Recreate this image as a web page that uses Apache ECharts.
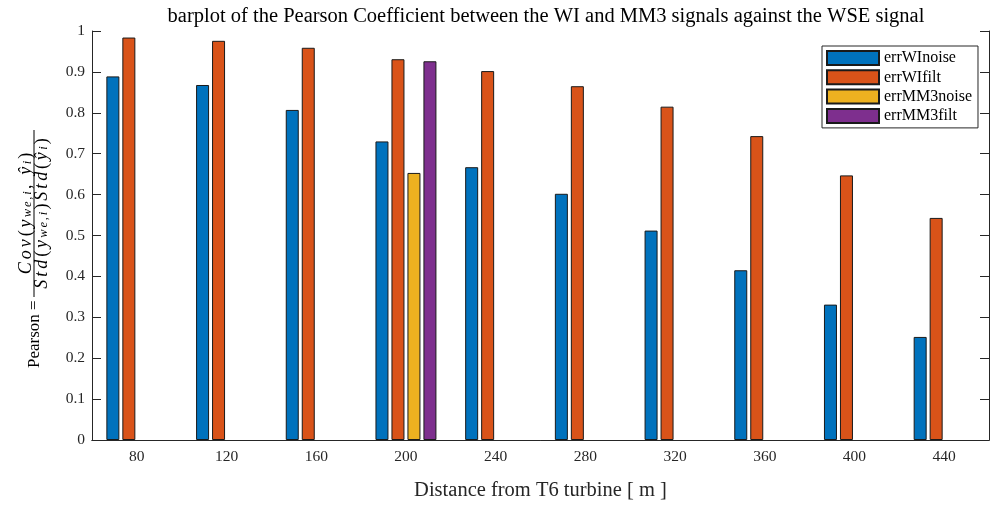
<!DOCTYPE html>
<html>
<head>
<meta charset="utf-8">
<script src="https://cdn.jsdelivr.net/npm/echarts@6/dist/echarts.min.js"></script>
<style>
html,body{margin:0;padding:0;background:#fff;}
#chart{width:995px;height:506px;}
</style>
</head>
<body>
<div id="chart"></div>
<script>
const categories = ['80','120','160','200','240','280','320','360','400','440'];
const errWInoise = [0.889, 0.868, 0.807, 0.730, 0.667, 0.602, 0.512, 0.415, 0.331, 0.252];
const errWIfilt = [0.984, 0.976, 0.959, 0.931, 0.902, 0.865, 0.815, 0.743, 0.647, 0.543];
const errMM3noise = [null, null, null, 0.653, null, null, null, null, null, null];
const errMM3filt = [null, null, null, 0.926, null, null, null, null, null, null];
const seriesNames = ['errWInoise','errWIfilt','errMM3noise','errMM3filt'];
const seriesColors = ['#0072BD','#D95319','#EDB120','#7E2F8E'];
const yTicks = {min: 0, max: 1, interval: 0.1};

const SERIF = '"Liberation Serif", "DejaVu Serif", serif';
const AX = '#262626';

const chart = echarts.init(document.getElementById('chart'), null, {renderer: 'canvas'});
const seriesData = [errWInoise, errWIfilt, errMM3noise, errMM3filt];

// build rich-text math with per-character tokens (spread like LaTeX math)
function mathRich(parts) {
  let s = '';
  parts.forEach(([style, txt]) => {
    for (const ch of txt) s += '{' + style + '|' + ch + '}';
  });
  return s;
}
const numer = mathRich([['m','Cov'],['r','('],['m','y'],['s','we,i'],['r',','],['r',' '],['m','ŷ'],['s','i'],['r',')']]);
const denom = mathRich([['m','Std'],['r','('],['m','y'],['s','we,i'],['r',')'],['m','Std'],['r','('],['m','ŷ'],['s','i'],['r',')']]);
const richStyle = {
  m: {fontFamily: SERIF, fontSize: 18, fontStyle: 'italic', lineHeight: 16, fill: '#000', padding: [0, 1.5, 0, 1.5]},
  r: {fontFamily: SERIF, fontSize: 18, lineHeight: 16, fill: '#000', padding: [0, 1.3, 0, 1.3]},
  s: {fontFamily: SERIF, fontSize: 12.5, fontStyle: 'italic', lineHeight: 7, verticalAlign: 'bottom', fill: '#000', padding: [0, 0.9, 0, 0.9]}
};

const option = {
  backgroundColor: '#fff',
  animation: false,
  title: {
    text: 'barplot of the Pearson Coefficient between the WI and MM3 signals against the WSE signal',
    left: 541, top: 1, textAlign: 'center',
    textStyle: {fontFamily: SERIF, fontSize: 20.5, fontWeight: 'normal', color: '#000'}
  },
  legend: {
    orient: 'vertical', left: 822, top: 46,
    padding: [4, 6, 4, 4], itemGap: 3.3, itemWidth: 52, itemHeight: 14,
    icon: 'rect', borderColor: AX, borderWidth: 1, backgroundColor: '#fff',
    textStyle: {fontFamily: SERIF, fontSize: 16, lineHeight: 14, color: '#000'},
    data: seriesNames
  },
  grid: {left: 92, right: 6, top: 31, bottom: 56, containLabel: false},
  xAxis: [{
    type: 'category', data: categories, position: 'bottom',
    name: 'Distance from T6 turbine [ m ]', nameLocation: 'middle', nameGap: 40,
    nameTextStyle: {fontFamily: SERIF, fontSize: 20.5, color: AX},
    axisLine: {lineStyle: {color: AX, width: 1}},
    axisTick: {inside: true, length: 9, alignWithLabel: true, lineStyle: {color: AX}},
    axisLabel: {fontFamily: SERIF, fontSize: 15.5, color: AX, margin: 9},
    splitLine: {show: false}
  }, {
    type: 'category', data: categories, position: 'top',
    axisLine: {lineStyle: {color: AX, width: 1}},
    axisTick: {inside: true, length: 9, alignWithLabel: true, lineStyle: {color: AX}},
    axisLabel: {show: false}, splitLine: {show: false}
  }],
  yAxis: [{
    type: 'value', min: yTicks.min, max: yTicks.max, interval: yTicks.interval, position: 'left',
    axisLine: {show: true, lineStyle: {color: AX, width: 1}},
    axisTick: {show: true, inside: true, length: 9, lineStyle: {color: AX}},
    axisLabel: {fontFamily: SERIF, fontSize: 15.5, color: AX, margin: 7},
    splitLine: {show: false}
  }, {
    type: 'value', min: yTicks.min, max: yTicks.max, interval: yTicks.interval, position: 'right',
    axisLine: {show: true, lineStyle: {color: AX, width: 1}},
    axisTick: {show: true, inside: true, length: 9, lineStyle: {color: AX}},
    axisLabel: {show: false}, splitLine: {show: false}
  }],
  series: seriesNames.map((n, i) => ({
    name: n, type: 'bar', data: seriesData[i],
    barWidth: 13, barGap: '23%',
    itemStyle: {color: seriesColors[i], borderColor: '#1a1a1a', borderWidth: 1}
  })),
  graphic: [{
    type: 'group', x: 34, y: 249, rotation: Math.PI / 2,
    children: [
      {type: 'text', x: -119, y: 1, style: {text: 'Pearson =', font: '17px ' + SERIF, fill: '#000', align: 'left', verticalAlign: 'middle'}},
      {type: 'line', shape: {x1: -48, y1: 0, x2: 119, y2: 0}, style: {stroke: '#000', lineWidth: 1}},
      {type: 'text', x: 35.5, y: -15.5, style: {text: numer, rich: richStyle, align: 'center', verticalAlign: 'top'}},
      {type: 'text', x: 35.5, y: 0.5, style: {text: denom, rich: richStyle, align: 'center', verticalAlign: 'top'}}
    ]
  }]
};
chart.setOption(option);
</script>
</body>
</html>
